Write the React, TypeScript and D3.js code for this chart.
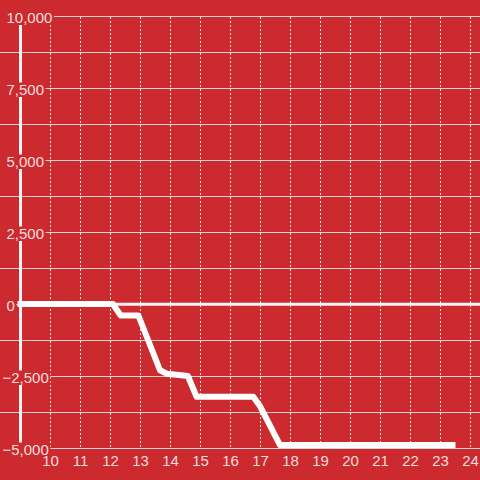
import React, { useEffect, useRef } from "react";
import * as d3 from "d3";

const xTicks = [10, 11, 12, 13, 14, 15, 16, 17, 18, 19, 20, 21, 22, 23, 24];
const yMajor = [10000, 7500, 5000, 2500, 0, -2500, -5000];
const yGrid = [10000, 8750, 7500, 6250, 5000, 3750, 2500, 1250, 0, -1250, -2500, -3750, -5000];
const lineX = [9, 12.08, 12.34, 12.93, 13.65, 13.88, 14.58, 14.87, 16.76, 16.98, 17.65, 23.4];
const lineY = [0, 0, -400, -400, -2300, -2420, -2500, -3220, -3220, -3540, -4900, -4900];

const W = 480;
const H = 480;
const BG = "#cc2a2f";
const TXT = "#f6dede";

export default function App() {
  const ref = useRef<SVGSVGElement | null>(null);

  useEffect(() => {
    const svg = d3.select(ref.current);
    svg.selectAll("*").remove();

    const x = d3.scaleLinear().domain([9, 24]).range([20.5, 470.5]);
    const y = d3.scaleLinear().domain([-5000, 10000]).range([448, 16]);

    svg.append("rect").attr("width", W).attr("height", H).attr("fill", BG);

    // horizontal gridlines
    svg
      .append("g")
      .selectAll("line")
      .data(yGrid)
      .join("line")
      .attr("x1", 0)
      .attr("x2", W)
      .attr("y1", (d) => Math.round(y(d)) + 0.5)
      .attr("y2", (d) => Math.round(y(d)) + 0.5)
      .attr("stroke", "#d4d4d4")
      .attr("stroke-width", 1);

    // vertical dotted gridlines
    svg
      .append("g")
      .selectAll("line")
      .data(xTicks)
      .join("line")
      .attr("x1", (d) => x(d))
      .attr("x2", (d) => x(d))
      .attr("y1", y(10000) + 1)
      .attr("y2", y(-5000))
      .attr("stroke", "#eeeeee")
      .attr("stroke-width", 1)
      .attr("stroke-dasharray", "2,2");

    // zero line
    svg
      .append("line")
      .attr("x1", x(9))
      .attr("x2", W)
      .attr("y1", y(0) + 0.3)
      .attr("y2", y(0) + 0.3)
      .attr("stroke", "#f4f4f4")
      .attr("stroke-width", 3);

    // y axis bar
    svg
      .append("line")
      .attr("x1", x(9))
      .attr("x2", x(9))
      .attr("y1", y(10000))
      .attr("y2", y(-5000))
      .attr("stroke", "#f4f4f4")
      .attr("stroke-width", 3);

    // y labels with background
    const yl = svg.append("g");
    yMajor.forEach((v) => {
      const g = yl.append("g");
      const bg = g.append("rect").attr("fill", BG);
      const x0 = v < 0 ? 2.5 : 6.5;
      const t = g
        .append("text")
        .attr("x", x0)
        .attr("y", y(v) + 6.7)
        .attr("fill", TXT)
        .attr("font-size", 15)
        .attr("font-family", "'Liberation Sans', Arial, sans-serif")
        .text(d3.format(",")(v));
      const node = t.node() as SVGTextElement;
      const w = node.getComputedTextLength();
      bg.attr("x", 0)
        .attr("y", y(v) - 5.5)
        .attr("width", x0 + w + 1.5)
        .attr("height", 14.5);
    });

    // x labels
    svg
      .append("g")
      .selectAll("text")
      .data(xTicks)
      .join("text")
      .attr("x", (d) => x(d))
      .attr("y", 466)
      .attr("text-anchor", "middle")
      .attr("fill", TXT)
      .attr("font-size", 15)
      .attr("font-family", "'Liberation Sans', Arial, sans-serif")
      .text((d) => String(d));

    // data line
    const pts: [number, number][] = lineX.map((d, i) => [d, lineY[i]]);
    const line = d3
      .line<[number, number]>()
      .x((d) => x(d[0]))
      .y((d) => y(d[1]));
    svg
      .append("path")
      .attr("d", line(pts))
      .attr("fill", "none")
      .attr("stroke", "#ffffff")
      .attr("stroke-width", 6)
      .attr("stroke-linejoin", "round")
      .attr("stroke-linecap", "square");
  }, []);

  return (
    <div style={{ position: "fixed", left: 0, top: 0, width: W, height: H }}>
      <svg ref={ref} width={W} height={H} style={{ display: "block" }} />
    </div>
  );
}
